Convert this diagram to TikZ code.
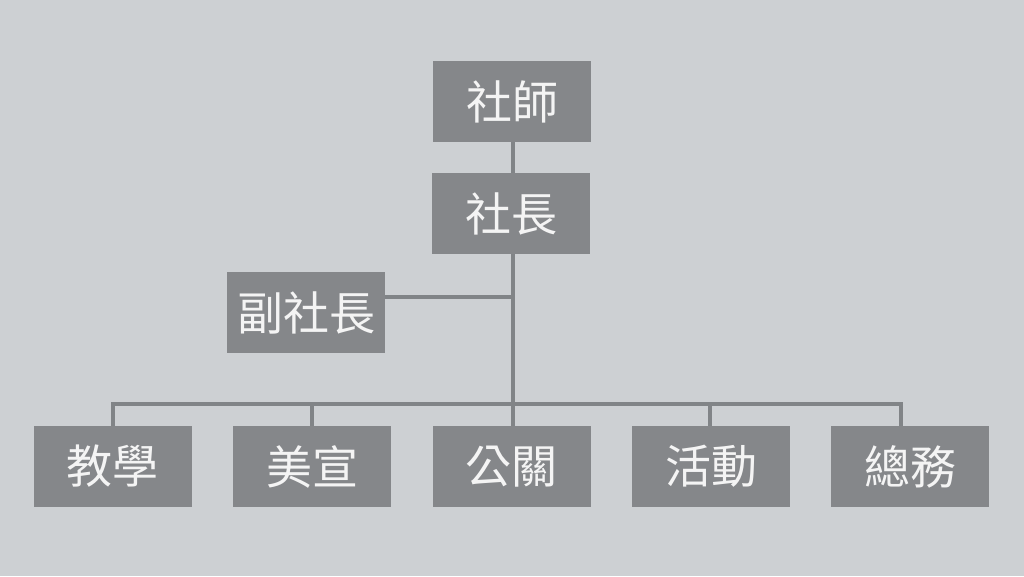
\documentclass[tikz,border=0pt]{standalone}
\usepackage{fontspec}
\newfontfamily\cjk{Noto Sans CJK TC}
\definecolor{bg}{HTML}{CDD0D3}
\definecolor{boxfill}{HTML}{85878A}
\definecolor{linec}{HTML}{818487}
\definecolor{txt}{HTML}{F4F4F4}
\tikzset{
  orgbox/.style={fill=boxfill, draw=none, minimum width=158pt, minimum height=81pt, inner sep=0pt,
    text=txt, font=\cjk\fontsize{46}{46}\selectfont},
  conn/.style={draw=linec, line width=4pt}
}
\begin{document}
\begin{tikzpicture}[x=1pt,y=-1pt]
\fill[bg] (0,0) rectangle (1024,576);
\useasboundingbox (0,0) rectangle (1024,576);
\node[orgbox] (teacher) at (512,101.5) {社師};
\node[orgbox] (pres) at (511,213.5) {社長};
\node[orgbox] (vice) at (306,312.5) {副社長};
\node[orgbox] (teach) at (112.5,466.5) {教學};
\node[orgbox] (art) at (312,466.5) {美宣};
\node[orgbox] (pr) at (511.5,466.5) {公關};
\node[orgbox] (act) at (711,466.5) {活動};
\node[orgbox] (gen) at (910,466.5) {總務};
\coordinate (bus) at (513,404);
\coordinate (vj) at (513,297);
\coordinate (bl) at (113,404);
\coordinate (b2) at (312,404);
\coordinate (b4) at (710,404);
\coordinate (br) at (901,404);
\draw[conn] (teacher.south -| vj) -- (pres.north -| vj);
\draw[conn] (pres.south -| vj) -- (bus);
\draw[conn] (vice.east |- vj) -- (vj);
\draw[conn] (teach.north -| bl) -- (bl) -- (br) -- (gen.north -| br);
\draw[conn] (art.north -| b2) -- (b2);
\draw[conn] (pr.north -| vj) -- (bus);
\draw[conn] (act.north -| b4) -- (b4);
\end{tikzpicture}
\end{document}
